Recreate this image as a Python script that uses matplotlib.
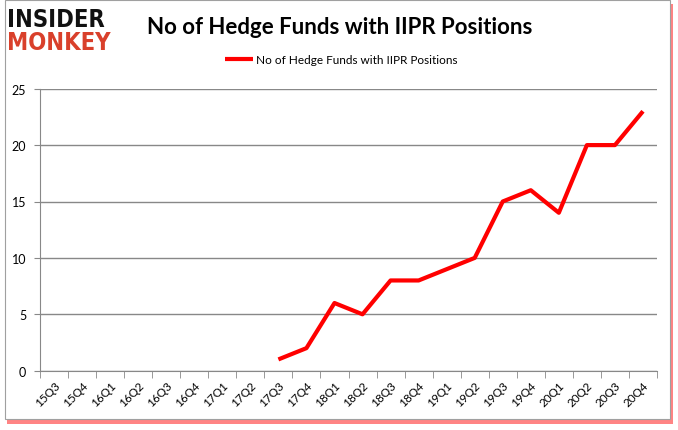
import matplotlib.pyplot as plt
from matplotlib.patches import Rectangle

quarters = ["15Q3", "15Q4", "16Q1", "16Q2", "16Q3", "16Q4", "17Q1", "17Q2",
            "17Q3", "17Q4", "18Q1", "18Q2", "18Q3", "18Q4", "19Q1", "19Q2",
            "19Q3", "19Q4", "20Q1", "20Q2", "20Q3", "20Q4"]
# no values before 17Q3
funds = [None] * 8 + [1, 2, 6, 5, 8, 8, 9, 10, 15, 16, 14, 20, 20, 23]
y_ticks = [0, 5, 10, 15, 20, 25]

fig = plt.figure(figsize=(6.78, 4.31), dpi=100)

# frame with red shadow
fig.patches.append(Rectangle((7 / 678, 1 - 425 / 431), 666 / 678, 420 / 431,
                             transform=fig.transFigure, facecolor='#ff2020',
                             edgecolor='none', alpha=0.55, zorder=0))
fig.patches.append(Rectangle((5 / 678, 1 - 420 / 431), 665 / 678, 419 / 431,
                             transform=fig.transFigure, facecolor='white',
                             edgecolor='#a0a0a0', linewidth=0.8, zorder=1))

ax = fig.add_axes([40 / 678, 1 - 371.7 / 431, 617 / 678, 282 / 431])
ax.set_zorder(2)

xs = [i for i, v in enumerate(funds) if v is not None]
ys = [v for v in funds if v is not None]
ax.plot(xs, ys, color='#ff0000', linewidth=3, solid_capstyle='butt',
        label='No of Hedge Funds with IIPR Positions')

ax.set_xlim(-0.5, len(quarters) - 0.5)
ax.set_ylim(0, 25)
ax.set_yticks(y_ticks)
ax.set_xticks(range(len(quarters)))
ax.set_xticklabels(quarters, rotation=45, fontsize=8.5, family='Lato')
ax.set_xticks([i - 0.5 for i in range(len(quarters) + 1)], minor=True)
ax.tick_params(axis='x', which='major', length=0, pad=6)
ax.tick_params(axis='x', which='minor', length=5, color='#888888')
ax.tick_params(axis='y', length=4, color='#888888', labelsize=9, pad=6)
for lbl in ax.get_yticklabels():
    lbl.set_family('Lato')
for lbl in ax.get_xticklabels():
    lbl.set_ha('right')
    lbl.set_rotation_mode('anchor')

ax.grid(axis='y', color='#888888', linewidth=1)
ax.set_axisbelow(True)
for side in ['top', 'right']:
    ax.spines[side].set_visible(False)
for side in ['left', 'bottom']:
    ax.spines[side].set_color('#888888')

fig.text(340 / 678, 1 - 27 / 431, 'No of Hedge Funds with IIPR Positions',
         ha='center', va='center', fontsize=16, fontweight='bold', family='Lato')
ax.legend(loc='center', bbox_to_anchor=(341 / 678, 1 - 61 / 431),
          bbox_transform=fig.transFigure, frameon=False,
          handlelength=2.4, handletextpad=0.2, prop={'family': 'Lato', 'size': 8.5})

# logo
fig.text(7 / 678, 1 - 20 / 431, 'INSIDER', ha='left', va='center', fontsize=17,
         fontweight='heavy', family='DejaVu Sans', color='#111111',
         fontstretch='condensed')
fig.text(7 / 678, 1 - 43 / 431, 'MONKEY', ha='left', va='center', fontsize=17,
         fontweight='heavy', family='DejaVu Sans', color='#d9402b',
         fontstretch='condensed')

fig.savefig('out.png', dpi=100)
